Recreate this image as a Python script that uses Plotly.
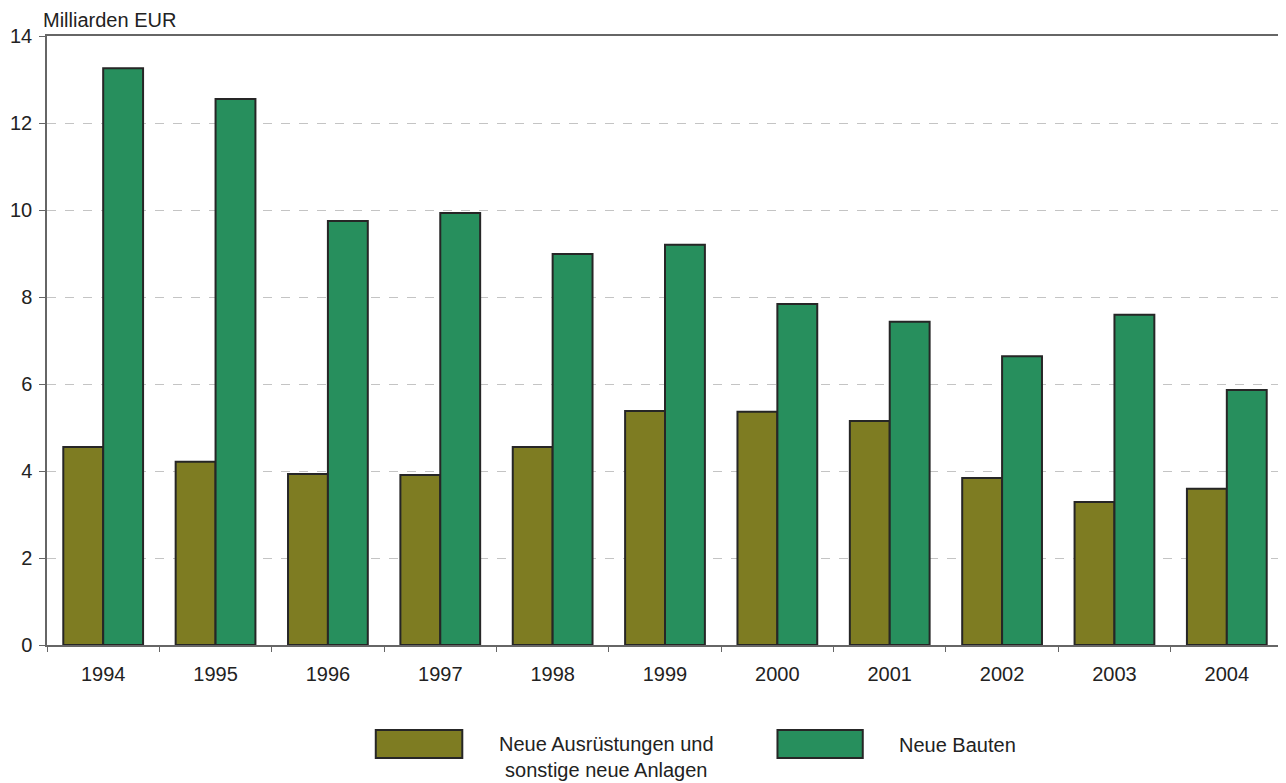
import plotly.graph_objects as go

years = ["1994", "1995", "1996", "1997", "1998", "1999", "2000", "2001", "2002", "2003", "2004"]
ausruestungen = [4.55, 4.21, 3.93, 3.91, 4.55, 5.38, 5.36, 5.15, 3.84, 3.29, 3.59]
bauten = [13.26, 12.55, 9.75, 9.93, 8.99, 9.20, 7.84, 7.43, 6.64, 7.59, 5.86]
series_names = ["Neue Ausrüstungen und<br>sonstige neue Anlagen", "Neue Bauten"]
y_ticks = [0, 2, 4, 6, 8, 10, 12, 14]

OLIVE = "#7E7C22"
GREEN = "#278F5D"
EDGE = "#262626"
FONT = "Liberation Sans, Arial, sans-serif"
FS = 20

fig = go.Figure()
fig.add_trace(go.Bar(x=years, y=ausruestungen, name=series_names[0],
                     marker=dict(color=OLIVE, line=dict(color=EDGE, width=2)),
                     showlegend=False))
fig.add_trace(go.Bar(x=years, y=bauten, name=series_names[1],
                     marker=dict(color=GREEN, line=dict(color=EDGE, width=2)),
                     showlegend=False))

fig.update_layout(
    width=1278, height=775,
    margin=dict(l=39, r=3, t=28, b=138, autoexpand=False),
    paper_bgcolor="white", plot_bgcolor="white",
    barmode="group", bargap=0.29, bargroupgap=0,
    font=dict(family=FONT, size=FS, color="#222"),
    xaxis=dict(type="category", showline=True, linecolor="#666", linewidth=1.5,
               mirror=True, ticks="outside", tickson="boundaries", ticklen=5,
               tickcolor="#666", showgrid=False, tickfont=dict(size=FS),
               ticklabelstandoff=10, automargin=False),
    yaxis=dict(range=[0, 14], tickvals=y_ticks, showline=True, linecolor="#666",
               linewidth=1.5, mirror=True, ticks="outside", ticklen=6, tickcolor="#666",
               showgrid=True, gridcolor="#c4c4c4", griddash="dash", gridwidth=1,
               zeroline=False, tickfont=dict(size=FS), ticklabelstandoff=3,
               automargin=False),
    annotations=[
        dict(text="Milliarden EUR", xref="paper", yref="paper", x=-0.005, y=1.0,
             xanchor="left", yanchor="bottom", yshift=3, showarrow=False,
             font=dict(size=FS)),
        dict(text=series_names[0], xref="paper", yref="paper", x=0.453, y=-0.1847,
             xanchor="center", yanchor="middle", showarrow=False, font=dict(size=FS)),
        dict(text=series_names[1], xref="paper", yref="paper", x=0.688, y=-0.164,
             xanchor="left", yanchor="middle", showarrow=False, font=dict(size=FS)),
    ],
    shapes=[
        dict(type="rect", xref="paper", yref="paper", x0=0.266, x1=0.336,
             y0=-0.1856, y1=-0.1396, fillcolor=OLIVE, line=dict(color=EDGE, width=2)),
        dict(type="rect", xref="paper", yref="paper", x0=0.591, x1=0.660,
             y0=-0.1856, y1=-0.1396, fillcolor=GREEN, line=dict(color=EDGE, width=2)),
    ],
)

fig.write_html("out.html")
